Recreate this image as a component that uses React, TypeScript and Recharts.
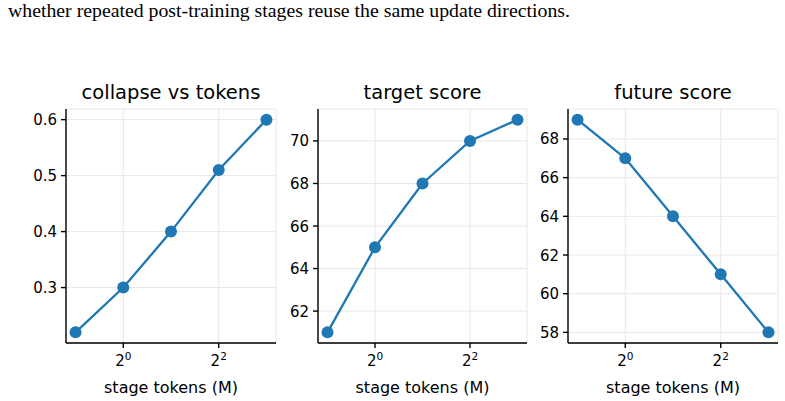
import React from "react";
import { LineChart, Line, XAxis, YAxis, CartesianGrid } from "recharts";

const tokens = [0.5, 1, 2, 4, 8];
const collapse = [0.22, 0.3, 0.4, 0.51, 0.6];
const target = [61, 65, 68, 70, 71];
const future = [69, 67, 64, 61, 58];

const xTicks = [1, 4];
const xTickExp = ["0", "2"];
const collapseTicks = [0.3, 0.4, 0.5, 0.6];
const targetTicks = [62, 64, 66, 68, 70];
const futureTicks = [58, 60, 62, 64, 66, 68];

const titles = ["collapse vs tokens", "target score", "future score"];
const xLabel = "stage tokens (M)";
const caption = "whether repeated post-training stages reuse the same update directions.";

const FONT = "DejaVu Sans";
const BLUE = "#1f77b4";
const GRID = "#e8e8e8";
const TICK_FS = 15;

const XTick = (props: any) => {
  const { x, y, payload } = props;
  const idx = xTicks.indexOf(payload.value);
  const exp = idx >= 0 ? xTickExp[idx] : "";
  return (
    <text x={x} y={y + 14} textAnchor="middle" fontFamily={FONT} fontSize={TICK_FS} fill="#000">
      <tspan>2</tspan>
      <tspan dy={-6} fontSize={10.5}>{exp}</tspan>
    </text>
  );
};

const YTick = (props: any) => {
  const { x, y, payload, digits } = props;
  return (
    <text x={x} y={y + 5.5} textAnchor="end" fontFamily={FONT} fontSize={TICK_FS} fill="#000">
      {Number(payload.value).toFixed(digits)}
    </text>
  );
};

type PanelProps = {
  left: number;
  width: number;
  yAxisWidth: number;
  rightMargin: number;
  values: number[];
  yTicks: number[];
  yDomain: [number, number];
  digits: number;
  title: string;
};

const TOP = 109;
const BOTTOM = 343;
const H = 401;
const xDomain: [number, number] = [Math.pow(2, -1.2), Math.pow(2, 3.2)];

const Panel = ({ left, width, yAxisWidth, rightMargin, values, yTicks, yDomain, digits, title }: PanelProps) => {
  const data = tokens.map((t, i) => ({ t, v: values[i] }));
  const plotLeft = left + yAxisWidth;
  const plotRight = left + width - rightMargin;
  const cx = (plotLeft + plotRight) / 2;
  return (
    <>
      <div style={{ position: "absolute", left, top: 0 }}>
        <LineChart
          width={width}
          height={H}
          data={data}
          margin={{ top: TOP, right: rightMargin, bottom: 0, left: 0 }}
        >
          <CartesianGrid stroke={GRID} strokeWidth={1} />
          <XAxis
            dataKey="t"
            type="number"
            scale="log"
            domain={xDomain}
            allowDataOverflow
            ticks={xTicks}
            height={H - BOTTOM}
            tick={<XTick />}
            tickSize={5}
            tickMargin={4}
            stroke="#000"
            strokeWidth={1.4}
            interval={0}
          />
          <YAxis
            type="number"
            domain={yDomain}
            allowDataOverflow
            ticks={yTicks}
            width={yAxisWidth}
            tick={<YTick digits={digits} />}
            tickSize={5}
            tickMargin={4}
            stroke="#000"
            strokeWidth={1.4}
            interval={0}
          />
          <Line
            dataKey="v"
            stroke={BLUE}
            strokeWidth={2.3}
            dot={{ r: 6, fill: BLUE, stroke: "none" }}
            isAnimationActive={false}
          />
        </LineChart>
      </div>
      <svg
        width={785}
        height={H}
        style={{ position: "absolute", left: 0, top: 0, pointerEvents: "none" }}
      >
        <text x={cx} y={99} textAnchor="middle" fontFamily={FONT} fontSize={19.5} fill="#000">
          {title}
        </text>
        <text x={cx} y={393} textAnchor="middle" fontFamily={FONT} fontSize={16} fill="#000">
          {xLabel}
        </text>
      </svg>
    </>
  );
};

export default function App() {
  return (
    <div
      style={{
        position: "absolute",
        left: 0,
        top: 0,
        width: 785,
        height: 401,
        background: "#fff",
        overflow: "hidden",
      }}
    >
      <svg width={785} height={30} style={{ position: "absolute", left: 0, top: 0 }}>
        <text x={8} y={17} fontFamily="Liberation Serif" fontSize={19.8} fill="#000">
          {caption}
        </text>
      </svg>
      <Panel
        left={0}
        width={290}
        yAxisWidth={66}
        rightMargin={14}
        values={collapse}
        yTicks={collapseTicks}
        yDomain={[0.201, 0.619]}
        digits={1}
        title={titles[0]}
      />
      <Panel
        left={280}
        width={260}
        yAxisWidth={38}
        rightMargin={13}
        values={target}
        yTicks={targetTicks}
        yDomain={[60.5, 71.5]}
        digits={0}
        title={titles[1]}
      />
      <Panel
        left={530}
        width={255}
        yAxisWidth={38}
        rightMargin={7}
        values={future}
        yTicks={futureTicks}
        yDomain={[57.45, 69.55]}
        digits={0}
        title={titles[2]}
      />
    </div>
  );
}
